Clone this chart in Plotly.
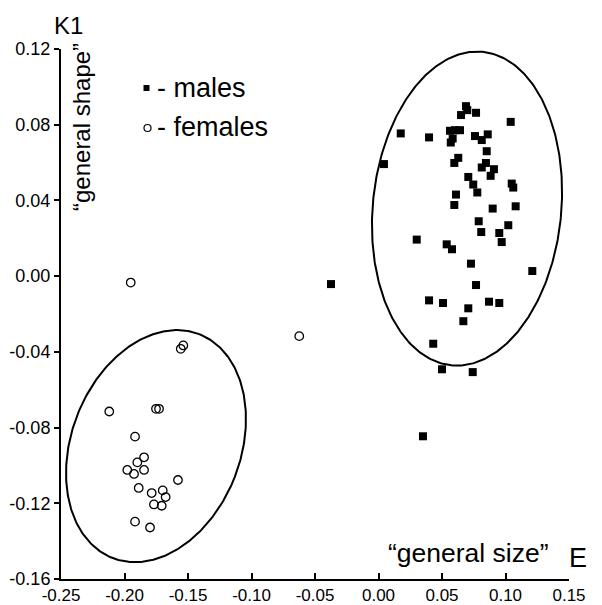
import numpy as np
import plotly.graph_objects as go

# ---- data ----
male_x = [0.0689, 0.0699, 0.0650, 0.0768, 0.1041, 0.0175, 0.0398, 0.0563, 0.0602, 0.0642,
          0.0584, 0.0569, 0.0760, 0.0813, 0.0860, 0.0852, 0.0628, 0.0597, 0.0813, 0.0846,
          0.0909, 0.0883, 0.0707, 0.0746, 0.0778, 0.1049, 0.1061, 0.0610, 0.0597, 0.0899,
          0.1080, 0.0043, 0.0789, 0.0809, 0.1022, 0.0951, 0.0970, 0.0301, 0.0537, 0.0579,
          0.0728, 0.1211, 0.0768, 0.0398, 0.0508, 0.0707, 0.0870, 0.0951, 0.0668, 0.0431,
          0.0500, 0.0742, -0.0374, 0.0350]
male_y = [0.0898, 0.0877, 0.0851, 0.0863, 0.0815, 0.0754, 0.0733, 0.0768, 0.0771, 0.0771,
          0.0727, 0.0706, 0.0740, 0.0719, 0.0749, 0.0660, 0.0625, 0.0598, 0.0574, 0.0598,
          0.0565, 0.0530, 0.0524, 0.0484, 0.0442, 0.0489, 0.0468, 0.0431, 0.0376, 0.0357,
          0.0369, 0.0592, 0.0290, 0.0233, 0.0269, 0.0228, 0.0180, 0.0193, 0.0168, 0.0142,
          0.0066, 0.0027, -0.0047, -0.0128, -0.0142, -0.0170, -0.0135, -0.0142, -0.0238, -0.0357,
          -0.0492, -0.0507, -0.0042, -0.0846]

female_x = [-0.1951, -0.1557, -0.1537, -0.2120, -0.1752, -0.1728, -0.1917, -0.1846, -0.1899, -0.1978,
            -0.1925, -0.1846, -0.1579, -0.1888, -0.1786, -0.1699, -0.1676, -0.1768, -0.1707, -0.1917,
            -0.1799, -0.0624]
female_y = [-0.0034, -0.0384, -0.0366, -0.0715, -0.0701, -0.0701, -0.0848, -0.0957, -0.0984, -0.1024,
            -0.1045, -0.1024, -0.1077, -0.1119, -0.1146, -0.1132, -0.1167, -0.1206, -0.1213, -0.1297,
            -0.1328, -0.0317]

# ellipses: center (data), semi-axis along x (data units), semi-axis along y (data units), tilt (deg, clockwise)
ell_cx = [0.0697, -0.1752]
ell_cy = [0.0357, -0.0898]
ell_rx = [0.0742, 0.0666]
ell_ry = [0.0832, 0.0634]
ell_tilt = [5.7, 21.1]

x_ticks = [-0.25, -0.20, -0.15, -0.10, -0.05, 0.00, 0.05, 0.10, 0.15]
x_ticklabels = ["-0.25", "-0.20", "-0.15", "-0.10", "-0.05", "0.00", "0.05", "0.10", "0.15"]
y_ticks = [-0.16, -0.12, -0.08, -0.04, 0.00, 0.04, 0.08, 0.12]
y_ticklabels = ["-0.16", "-0.12", "-0.08", "-0.04", "0.00", "0.04", "0.08", "0.12"]

# ---- layout geometry (page has an 8px body margin) ----
OFF = 8
WIN_W, WIN_H = 602, 605
W, H = WIN_W - OFF, WIN_H - OFF
# plot area in window pixels: x 61..569, y 49..579
ML, MR, MT, MB = 61 - OFF, WIN_W - 569, 49 - OFF, WIN_H - 579
xr = [-0.25, 0.15]
yr = [-0.16, 0.12]
sx = (W - ML - MR) / (xr[1] - xr[0])
sy = (H - MT - MB) / (yr[1] - yr[0])

FONT = "Liberation Sans, Arial, sans-serif"

fig = go.Figure()

# ellipses
t = np.linspace(0, 2 * np.pi, 361)
for cx, cy, rx, ry, tilt in zip(ell_cx, ell_cy, ell_rx, ell_ry, ell_tilt):
    th = np.deg2rad(tilt)
    U = rx * sx * np.cos(t)
    V = ry * sy * np.sin(t)
    X = U * np.cos(th) + V * np.sin(th)
    Y = -U * np.sin(th) + V * np.cos(th)
    fig.add_trace(go.Scatter(x=cx + X / sx, y=cy + Y / sy, mode="lines",
                             line=dict(color="black", width=2), hoverinfo="skip",
                             showlegend=False))

fig.add_trace(go.Scatter(x=male_x, y=male_y, mode="markers", name="males",
                         marker=dict(symbol="square", size=8, color="black",
                                     line=dict(width=0)),
                         showlegend=False))
fig.add_trace(go.Scatter(x=female_x, y=female_y, mode="markers", name="females",
                         marker=dict(symbol="circle-open", size=8.5, color="black",
                                     line=dict(width=1.3, color="black")),
                         showlegend=False))


def px2paper_x(px):
    return (px - OFF - ML) / (W - ML - MR)


def px2paper_y(py):
    return 1 - (py - OFF - MT) / (H - MT - MB)


annotations = [
    dict(text="K1", x=px2paper_x(68), y=px2paper_y(25), font=dict(size=24)),
    dict(text="E", x=px2paper_x(578), y=px2paper_y(558), font=dict(size=27)),
    dict(text="\u201cgeneral size\u201d", x=px2paper_x(468), y=px2paper_y(553), font=dict(size=26.5)),
    dict(text="\u201cgeneral shape\u201d", x=px2paper_x(82), y=px2paper_y(127), font=dict(size=24),
         textangle=-90),
    dict(text="- males", x=px2paper_x(155), y=px2paper_y(88), font=dict(size=27), xanchor="left"),
    dict(text="- females", x=px2paper_x(155), y=px2paper_y(127), font=dict(size=27), xanchor="left"),
]
for a in annotations:
    a.update(xref="paper", yref="paper", showarrow=False)
    a.setdefault("xanchor", "center")
    a["yanchor"] = "middle"
    a["font"].update(family=FONT, color="black")

shapes = [
    dict(type="rect", xref="paper", yref="paper",
         x0=px2paper_x(143.5), x1=px2paper_x(149.5), y0=px2paper_y(91), y1=px2paper_y(85),
         fillcolor="black", line=dict(width=0)),
    dict(type="circle", xref="paper", yref="paper",
         x0=px2paper_x(144), x1=px2paper_x(151), y0=px2paper_y(131.5), y1=px2paper_y(124.5),
         fillcolor="white", line=dict(width=1.2, color="black")),
]

fig.update_layout(
    width=W, height=H, autosize=False,
    margin=dict(l=ML, r=MR, t=MT, b=MB, pad=0, autoexpand=False),
    paper_bgcolor="white", plot_bgcolor="white",
    font=dict(family=FONT, color="black", size=17),
    annotations=annotations, shapes=shapes,
    xaxis=dict(range=xr, tickvals=x_ticks, ticktext=x_ticklabels, showgrid=False,
               zeroline=False, showline=True, linecolor="black", linewidth=2,
               ticks="inside", ticklen=6, tickwidth=2, tickcolor="black",
               tickfont=dict(size=17), automargin=False),
    yaxis=dict(range=yr, tickvals=y_ticks, ticktext=y_ticklabels, showgrid=False,
               zeroline=False, showline=True, linecolor="black", linewidth=2,
               ticks="outside", ticklen=5, tickwidth=2, tickcolor="black",
               tickfont=dict(size=18), automargin=False),
)

fig.write_html("out.html")
